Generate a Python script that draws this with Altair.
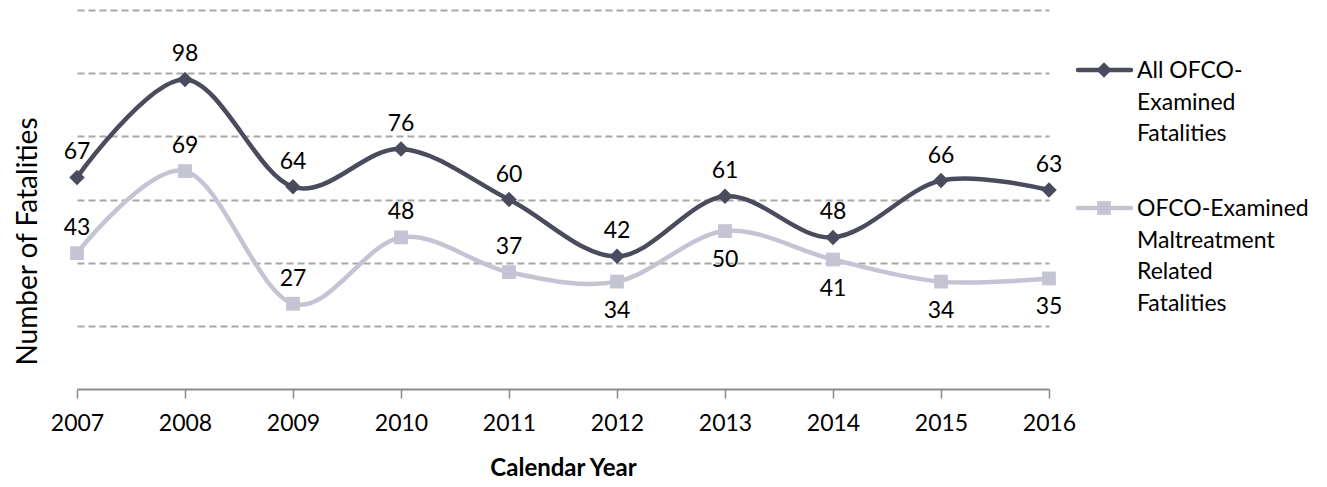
import altair as alt
import pandas as pd

# ---- data ----
years = ["2007", "2008", "2009", "2010", "2011", "2012", "2013", "2014", "2015", "2016"]
all_examined = [67, 98, 64, 76, 60, 42, 61, 48, 66, 63]
maltreatment = [43, 69, 27, 48, 37, 34, 50, 41, 34, 35]
label_side_all = ["above"] * 10
label_side_mal = ["above", "above", "above", "above", "above",
                  "below", "below", "below", "below", "below"]
series_names = ["All OFCO-Examined Fatalities",
                "OFCO-Examined Maltreatment Related Fatalities"]
legend_labels = ["All OFCO-|Examined|Fatalities",
                 "OFCO-Examined|Maltreatment|Related|Fatalities"]
grid_values = [20, 40, 60, 80, 100, 120]

colors = ["#4A4C5D", "#C4C4D4"]
FONT = "Lato"

rows = []
for i, yr in enumerate(years):
    rows.append({"year": yr, "value": all_examined[i], "series": series_names[0],
                 "side": label_side_all[i]})
    rows.append({"year": yr, "value": maltreatment[i], "series": series_names[1],
                 "side": label_side_mal[i]})
df = pd.DataFrame(rows)
leg = pd.DataFrame({"series": series_names, "label": legend_labels})

color = alt.Color("series:N", scale=alt.Scale(domain=series_names, range=colors), legend=None)
shape = alt.Shape("series:N", scale=alt.Scale(domain=series_names, range=["diamond", "square"]),
                  legend=None)
size = alt.Size("series:N", scale=alt.Scale(domain=series_names, range=[240, 190]), legend=None)

x = alt.X("year:O", scale=alt.Scale(type="point", padding=0),
          axis=alt.Axis(title="Calendar Year", labelAngle=0, labelFont=FONT, labelFontSize=23,
                        labelColor="#000000", labelPadding=14, tickSize=9, tickColor="#8C8C8C",
                        tickWidth=1.5, domainColor="#8C8C8C", domainWidth=2,
                        titleFont=FONT, titleFontSize=24, titleFontWeight="bold",
                        titleColor="#000000", titleY=79, titleBaseline="middle", grid=False))
y = alt.Y("value:Q", scale=alt.Scale(domain=[0, 120]),
          axis=alt.Axis(values=grid_values, labels=False, ticks=False, domain=False, grid=True,
                        gridDash=[7, 4], gridColor="#A8A8A8", gridWidth=2,
                        title="Number of Fatalities", titleFont=FONT, titleFontSize=28,
                        titleFontWeight="normal", titleColor="#000000", titleX=-49, titleY=231,
                        titleBaseline="middle", titleAlign="center", titleAngle=270))

base = alt.Chart(df)
lines = base.mark_line(interpolate="cardinal", strokeWidth=4.5).encode(
    x=x, y=y, color=color, detail="series:N")
points = base.mark_point(filled=True, opacity=1).encode(
    x="year:O", y="value:Q", color=color, shape=shape, size=size)
txt_above = base.transform_filter(alt.datum.side == "above").mark_text(
    font=FONT, fontSize=23, color="#000000", baseline="middle", dy=-25).encode(
    x="year:O", y="value:Q", text="value:Q")
txt_below = base.transform_filter(alt.datum.side == "below").mark_text(
    font=FONT, fontSize=23, color="#000000", baseline="middle", dy=29).encode(
    x="year:O", y="value:Q", text="value:Q")

main = alt.layer(lines, points, txt_above, txt_below)

leg_y = alt.Y("series:N", scale=alt.Scale(type="point", domain=series_names, range=[60, 198],
                                          padding=0), axis=None)
leg_base = alt.Chart(leg)
leg_rule = leg_base.mark_rule(strokeWidth=4.5, strokeCap="round").encode(
    x=alt.value(1001), x2=alt.value(1054), y=leg_y, color=color)
leg_mark = leg_base.mark_point(filled=True, opacity=1).encode(
    x=alt.value(1027), y=leg_y, color=color, shape=shape, size=size)
leg_text = leg_base.mark_text(align="left", baseline="top", dy=-10, lineBreak="|",
                              lineHeight=31.5, font=FONT, fontSize=23, color="#000000").encode(
    x=alt.value(1060), y=leg_y, text="label:N")
legend = alt.layer(leg_rule, leg_mark, leg_text)

chart = alt.layer(main, legend).resolve_scale(y="independent").properties(
    width=972, height=379,
    autosize=alt.AutoSizeParams(type="none"),
    padding={"left": 69, "top": 2, "right": 266, "bottom": 90},
).configure_view(stroke=None)

chart.save("out.html", embed_options={"renderer": "svg", "actions": False})
